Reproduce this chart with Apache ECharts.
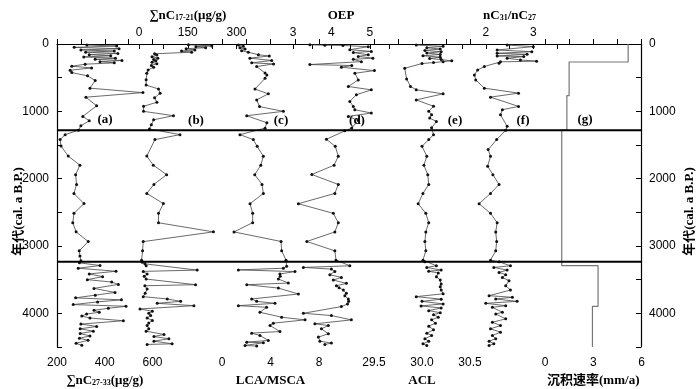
<!DOCTYPE html>
<html lang="zh">
<head>
<meta charset="UTF-8">
<title>alkane profile</title>
<script src="https://cdn.jsdelivr.net/npm/echarts@6/dist/echarts.min.js"></script>
<style>
  html, body { margin: 0; padding: 0; background: #fff; }
  #main { width: 700px; height: 389px; }
</style>
</head>
<body>
<div id="main"></div>
<script>
// every pair is [value, age (cal. a B.P.)]
const sumC27_33 = [
  [325,15],[450,30],[272,50],[460,70],[300,88],[440,105],[320,122],[455,140],[335,158],[425,175],[312,192],
  [445,210],[360,228],[472,245],[380,262],[440,280],[318,300],[262,330],[345,355],[255,390],[262,425],
  [328,473],[360,542],[338,656],[560,722],[321,790],[366,918],[308,1075],[335,1140],[300,1215],[290,1280],
  [234,1346],[213,1420],[217,1515],[247,1665],[296,1800],[278,1940],[282,2085],[271,2220],[313,2370],
  [271,2515],[266,2655],[280,2790],[331,2935],[293,3072],[296,3150],[300,3220],
  [294,3250],[380,3290],[289,3330],[447,3375],[335,3415],[391,3455],[327,3500],[429,3535],[457,3570],
  [355,3630],[443,3690],[360,3730],[278,3770],[470,3800],[370,3830],[268,3870],[489,3895],[415,3925],
  [355,3955],[377,3985],[324,4010],[304,4040],[338,4070],[478,4110],[300,4160],[366,4195],[297,4230],
  [352,4265],[297,4300],[338,4335],[294,4370],[330,4400],[280,4445],[304,4475]
];
const sumC17_21 = [
  [152,12],[224,28],[175,40],[205,55],[145,70],[172,88],[131,105],[162,122],[48,145],[55,165],[40,190],
  [58,210],[45,230],[52,250],[40,270],[55,292],[38,318],[45,345],[28,385],[24,434],[22,530],[22,610],
  [60,668],[65,730],[48,800],[55,865],[14,925],[14,1000],[106,1065],[45,1125],[38,1200],[32,1262],
  [126,1346],[49,1420],[24,1665],[44,1800],[85,1940],[46,2085],[24,2220],[75,2370],[60,2515],[60,2655],
  [229,2790],[13,2935],[11,3072],[8,3210],
  [10,3240],[18,3265],[22,3294],[179,3358],[13,3377],[25,3417],[16,3450],[22,3491],[174,3575],[18,3590],
  [25,3639],[19,3700],[13,3752],[87,3787],[128,3822],[56,3851],[169,3886],[3,3935],[41,3969],[30,4000],
  [36,4033],[25,4068],[41,4107],[30,4145],[25,4181],[30,4230],[22,4265],[77,4314],[46,4344],[92,4378],
  [46,4413],[102,4453],[25,4462]
];
const lcaMsca = [
  [1.35,15],[1.76,35],[1.48,55],[1.9,75],[1.62,100],[2.17,122],[3.0,160],[3.9,178],[2.3,210],[4.1,245],
  [2.45,280],[4.25,296],[2.86,335],[3.55,430],[3.7,460],[3.55,510],[2.72,670],[3.82,740],[2.86,830],
  [3.1,930],[5.06,1000],[2.04,1065],[3.7,1170],[3.55,1250],
  [1.48,1346],[2.58,1420],[2.9,1520],[3.41,1667],[3.2,1800],[2.7,1940],[3.3,2085],[3.41,2219],[2.31,2372],
  [2.53,2515],[2.53,2653],[0.99,2791],[4.87,2933],[4.92,3072],[5.28,3210],
  [5.33,3300],[5.06,3330],[1.35,3355],[6.02,3380],[4.78,3415],[4.8,3450],[4.65,3490],[5.47,3550],
  [2.04,3575],[4.65,3625],[6.3,3713],[2.45,3787],[2.86,3822],[4.37,3851],[1.35,3886],[3.68,3910],
  [3.13,3984],[4.92,4058],[6.85,4097],[4.23,4146],[3.96,4181],[4.78,4270],[2.45,4294],[3.13,4329],
  [3.82,4403],[2.04,4428],[3.41,4437],[1.9,4477],[2.86,4487]
];
const oep = [
  [3.44,12],[3.83,18],[4.3,22],[4.96,40],[4.48,85],[5.04,110],[4.57,128],[4.96,160],[4.7,185],[5.08,210],
  [4.57,228],[4.78,262],[3.44,305],[4.53,320],[4.26,345],[5.12,395],[4.61,434],[4.7,533],[4.44,631],
  [5.04,681],[4.65,754],[4.48,853],[4.57,927],[4.61,976],[5.04,1025],[4.44,1075],[4.7,1134],[4.53,1247],
  [4.35,1290],[3.87,1415],[4.1,1520],[4.18,1667],[4.07,1800],[3.49,1938],[4.18,2086],[4.09,2219],
  [3.14,2372],[4.05,2515],[4.18,2653],[4.09,2791],[3.36,2933],[4.09,3072],[4.12,3210],
  [4.48,3294],[3.27,3318],[4.0,3343],[4.09,3377],[3.96,3427],[4.26,3466],[4.05,3506],[4.39,3555],
  [4.13,3590],[4.2,3620],[4.31,3654],[4.39,3703],[4.35,3740],[4.44,3787],[4.45,3820],[4.42,3861],
  [4.26,3900],[3.27,3999],[4.0,4033],[4.52,4097],[3.57,4156],[3.92,4181],[3.74,4230],[3.92,4304],
  [3.66,4353],[3.7,4413],[4.0,4442],[3.83,4462]
];
const acl = [
  [29.94,15],[30.22,35],[30.05,55],[30.19,75],[30.03,95],[30.2,115],[30.05,135],[30.19,155],[30.01,175],
  [30.19,195],[30.08,215],[30.2,232],[30.31,250],[30.22,262],[30.12,276],[30.0,290],[29.82,360],
  [29.84,520],[29.88,630],[29.94,680],[30.22,740],[29.94,830],[30.12,925],[30.07,1000],[30.1,1050],
  [30.08,1100],[30.15,1150],[30.1,1245],
  [30.12,1346],[30.07,1420],[30.0,1519],[30.05,1667],[30.02,1800],[30.06,1940],[30.07,2086],[30.01,2219],
  [29.96,2372],[30.04,2515],[30.07,2653],[30.04,2791],[30.03,2933],[30.04,3072],[30.01,3210],
  [30.03,3235],[30.15,3294],[30.05,3318],[30.2,3358],[30.07,3375],[30.17,3400],[30.15,3457],[30.19,3506],
  [30.2,3565],[30.19,3605],[30.2,3654],[30.22,3710],[29.94,3752],[30.2,3790],[30.0,3822],[30.22,3860],
  [29.99,3890],[30.2,3920],[30.07,3960],[30.19,3990],[30.12,4020],[30.17,4058],[30.1,4097],[30.14,4146],
  [30.07,4190],[30.12,4245],[30.05,4294],[30.1,4329],[30.03,4378],[30.07,4413],[30.01,4453],[30.05,4477]
];
const c31c27 = [
  [2.45,15],[3.0,39],[2.24,89],[2.97,114],[2.24,138],[2.87,153],[2.24,178],[2.8,187],[2.45,212],[2.73,237],
  [3.07,255],[2.31,265],[2.28,286],[1.97,335],[1.83,385],[1.76,459],[1.79,533],[1.97,656],[2.69,730],
  [2.1,789],[2.69,927],[2.35,976],[2.31,1050],[2.45,1223],
  [2.42,1282],[2.23,1420],[2.05,1568],[2.1,1667],[2.04,1815],[2.15,1940],[2.28,2086],[2.1,2219],
  [1.86,2372],[2.1,2515],[2.24,2653],[2.21,2791],[2.23,2933],[2.21,3072],[2.1,3210],
  [2.28,3235],[2.52,3294],[2.17,3318],[2.45,3358],[2.28,3392],[2.42,3427],[2.35,3466],[2.49,3516],
  [2.42,3590],[2.52,3654],[2.07,3738],[2.56,3762],[2.21,3787],[2.66,3822],[2.0,3851],[2.42,3886],
  [2.14,3910],[2.35,3984],[2.21,4009],[2.42,4082],[2.14,4132],[2.31,4181],[2.1,4230],[2.31,4280],
  [2.14,4329],[2.21,4378],[2.07,4413],[2.17,4453],[2.07,4477]
];
// sedimentation rate: one rate per age interval
const sedBreaks = [0, 267, 766, 1280, 3290, 3896, 4500];
const sedRates = [5.17, 1.5, 1.36, 1.04, 3.3, 2.95];
// unit boundaries
const boundaries = [1280, 3235];
const ageMax = 4500;

const sedSteps = [];
sedRates.forEach((r, i) => {
  sedSteps.push([r, sedBreaks[i]], [r, sedBreaks[i + 1]]);
});

const SERIF = '"Liberation Serif", "DejaVu Serif", "Noto Sans CJK SC"';
const SANS = '"Liberation Sans", Arial, sans-serif';
const GRID_TOP = 44, GRID_BOTTOM = 42;

function sub(base, s, tail) {
  return '{t|' + base + '}{s|' + s + '}' + (tail ? '{t|' + tail + '}' : '');
}
const richName = {
  t: { fontFamily: SERIF, fontWeight: 'bold', fontSize: 13, color: '#000', lineHeight: 16, verticalAlign: 'bottom' },
  s: { fontFamily: SERIF, fontWeight: 'bold', fontSize: 8, color: '#000', lineHeight: 4, verticalAlign: 'bottom' }
};

const panels = [
  { left: 57, width: 95.5, pos: 'bottom', min: 200, max: 600, step: 100, every: 200,
    name: sub('∑nC', '27-33', '(μg/g)'), data: sumC27_33 },
  { left: 139, width: 97.5, pos: 'top', min: 0, max: 300, step: 75, every: 150,
    name: sub('∑nC', '17-21', '(μg/g)'), data: sumC17_21 },
  { left: 222, width: 97, pos: 'bottom', min: 0, max: 8, step: 2, every: 4,
    name: '{t|LCA/MSCA}', data: lcaMsca },
  { left: 293, width: 96, pos: 'top', min: 3, max: 5.5, step: 0.5, every: 1,
    name: '{t|OEP}', data: oep },
  { left: 374, width: 96, pos: 'bottom', min: 29.5, max: 30.5, step: 0.25, every: 0.5, fixed: 1,
    name: '{t|ACL}', data: acl },
  { left: 462, width: 95, pos: 'top', min: 1.5, max: 3.5, step: 0.5, every: 1,
    name: '{t|nC}{s|31}{t|/nC}{s|27}', data: c31c27 },
  { left: 545, width: 96.5, pos: 'bottom', min: 0, max: 6, step: 1.5, every: 3,
    name: '{t|沉积速率(mm/a)}', data: sedSteps, isStep: true }
];

const axisLine = { show: true, lineStyle: { color: '#000', width: 1.2 } };
const axisTick = { show: true, inside: true, length: 5, lineStyle: { color: '#000' } };

const grid = [{ left: 57, right: 59, top: GRID_TOP, bottom: GRID_BOTTOM, outerBoundsMode: 'none', containLabel: false }];
const xAxis = [{ gridIndex: 0, show: false, type: 'value', min: 0, max: 1 }];
function ageAxis(pos) {
  return {
    gridIndex: 0, type: 'value', position: pos, inverse: true, min: 0, max: ageMax, interval: 500,
    axisLine: axisLine, axisTick: axisTick,
    axisLabel: { color: '#000', fontFamily: SANS, fontSize: 12, margin: 8,
      formatter: function (v) { return v % 1000 === 0 ? String(v) : ''; } },
    splitLine: { show: false },
    name: '年代(cal. a B.P.)', nameLocation: 'middle', nameRotate: 90, nameMoveOverlap: false,
    nameGap: pos === 'left' ? 32 : 42,
    nameTextStyle: { fontFamily: SERIF, fontWeight: 'bold', fontSize: 13, color: '#000',
      padding: [0, 32, 0, 0] }
  };
}
const yAxis = [ageAxis('left'), ageAxis('right')];

// boundary lines drawn across the whole figure
const series = boundaries.map(function (b) {
  return {
    type: 'line', xAxisIndex: 0, yAxisIndex: 0, data: [[0, b], [1, b]], showSymbol: false,
    lineStyle: { color: '#000', width: 2 }, silent: true, z: 5
  };
});

panels.forEach(function (p, i) {
  const gi = i + 1;
  grid.push({ left: p.left, width: p.width, top: GRID_TOP, bottom: GRID_BOTTOM,
    outerBoundsMode: 'none', containLabel: false });
  xAxis.push({
    gridIndex: gi, type: 'value', position: p.pos, min: p.min, max: p.max, interval: p.step,
    axisLine: axisLine, axisTick: axisTick,
    axisLabel: {
      color: '#000', fontFamily: SANS, fontSize: 12, margin: p.pos === 'top' ? 5 : 10,
      showMinLabel: true, showMaxLabel: true,
      formatter: function (v) {
        const onLabel = Math.abs(v / p.every - Math.round(v / p.every)) < 1e-6;
        if (!onLabel) return '';
        return p.fixed ? v.toFixed(p.fixed) : String(+v.toFixed(4));
      }
    },
    splitLine: { show: false },
    name: p.name, nameLocation: 'middle', nameMoveOverlap: false,
    nameGap: p.pos === 'top' ? 22 : 24,
    nameTextStyle: { rich: richName }
  });
  yAxis.push({ gridIndex: gi, show: false, type: 'value', inverse: true, min: 0, max: ageMax });
  const yi = yAxis.length - 1;
  if (p.isStep) {
    series.push({
      type: 'line', xAxisIndex: gi, yAxisIndex: yi, data: p.data, showSymbol: false,
      lineStyle: { color: '#777', width: 1.2 }
    });
  } else {
    series.push({
      type: 'line', xAxisIndex: gi, yAxisIndex: yi, data: p.data,
      symbol: 'circle', symbolSize: 3, showSymbol: true,
      itemStyle: { color: '#111' },
      lineStyle: { color: '#444', width: 0.8 }
    });
  }
});

const tags = [['(a)', 105, 120], ['(b)', 196, 121], ['(c)', 281, 121], ['(d)', 357, 121],
  ['(e)', 455, 121], ['(f)', 523, 121], ['(g)', 585, 120]];

const chart = echarts.init(document.getElementById('main'));
chart.setOption({
  animation: false,
  grid: grid,
  xAxis: xAxis,
  yAxis: yAxis,
  series: series,
  graphic: {
    elements: tags.map(function (t) {
      return {
        type: 'text', x: t[1], y: t[2], silent: true,
        style: { text: t[0], align: 'center', verticalAlign: 'middle',
          font: 'bold 13px ' + SERIF, fill: '#000' }
      };
    })
  }
});
</script>
</body>
</html>
